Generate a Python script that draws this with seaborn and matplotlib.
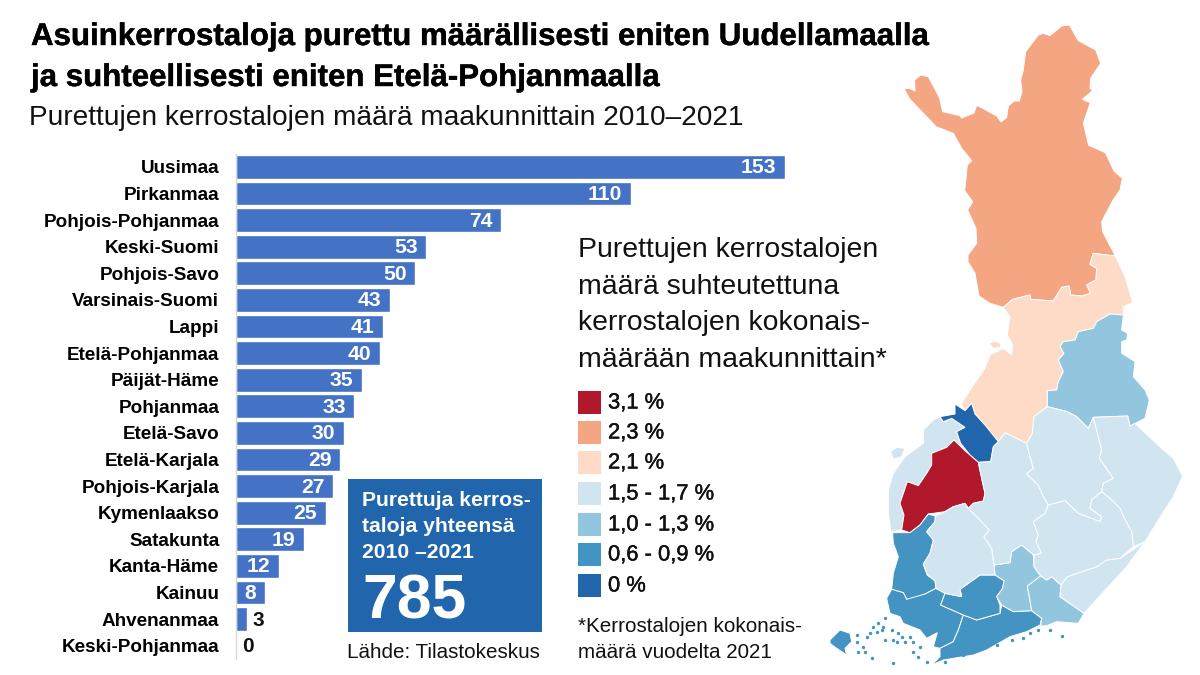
import matplotlib
matplotlib.use("Agg")
import matplotlib.pyplot as plt
import matplotlib.patheffects as pe
from matplotlib.patches import Polygon, Rectangle
import pandas as pd
import seaborn as sns

# Bar chart values
regions = ["Uusimaa", "Pirkanmaa", "Pohjois-Pohjanmaa", "Keski-Suomi", "Pohjois-Savo",
           "Varsinais-Suomi", "Lappi", "Etelä-Pohjanmaa", "Päijät-Häme", "Pohjanmaa",
           "Etelä-Savo", "Etelä-Karjala", "Pohjois-Karjala", "Kymenlaakso", "Satakunta",
           "Kanta-Häme", "Kainuu", "Ahvenanmaa", "Keski-Pohjanmaa"]
counts = [153, 110, 74, 53, 50, 43, 41, 40, 35, 33, 30, 29, 27, 25, 19, 12, 8, 3, 0]

# Map legend classes
legend_labels = ["3,1 %", "2,3 %", "2,1 %", "1,5 - 1,7 %", "1,0 - 1,3 %", "0,6 - 0,9 %", "0 %"]
legend_colors = ["#B2182B", "#F4A582", "#FDDBC7", "#D1E5F0", "#92C5DE", "#4393C3", "#2166AC"]
RED, ORANGE, PEACH, PALE, LIGHT, MID, DARK = legend_colors

# Hand traced region outlines, origin (830, 340), 3 units per pixel
lappi = [(222,-753),(238,-755),(255,-747),(254,-780),(272,-795),(295,-790),(328,-728),(338,-685),(390,-673),(395,-666),
         (432,-681),(440,-704),(458,-695),(500,-672),(513,-654),(530,-668),(535,-702),(553,-717),(568,-717),(576,-745),
         (572,-780),(580,-810),(587,-865),(625,-915),(640,-920),(660,-913),(695,-942),(718,-945),(745,-898),(797,-870),
         (812,-830),(782,-785),(780,-755),(788,-748),(757,-722),(781,-712),(760,-650),(776,-584),(826,-562),(852,-507),
         (877,-485),(870,-450),(848,-418),(815,-355),(818,-325),(856,-252),(790,-260),(780,-227),(800,-215),(798,-180),
         (770,-165),(782,-140),(755,-132),(722,-135),(717,-162),(695,-158),(670,-117),(602,-122),(600,-135),(548,-122),
         (520,-98),(480,-110),(447,-132),(435,-200),(414,-235),(414,-255),(440,-290),(438,-335),(413,-390),(428,-415),
         (404,-448),(412,-525),(425,-538),(395,-575),(370,-620),(318,-640),(290,-670),(240,-722)]
pohjois_pohjanmaa = [(520,-98),(548,-122),(600,-135),(602,-122),(670,-117),(695,-158),(717,-162),(722,-135),(755,-132),
                     (782,-140),(770,-165),(798,-180),(800,-215),(780,-227),(790,-260),(856,-252),(885,-190),(908,-112),
                     (880,-100),(880,-75),(840,-78),(800,-55),(790,-35),(745,-25),(735,0),(700,5),(690,20),(702,40),(685,60),
                     (700,95),(685,125),(680,150),(652,152),(652,200),(612,230),(607,280),(590,310),(525,278),(505,305),
                     (465,255),(435,222),(425,190),(405,212),(395,192),(420,150),(465,85),(480,45),(520,25),(545,45),
                     (548,15),(532,-15),(540,-70)]
pp_island = [(478,10),(495,3),(510,8),(512,22),(490,25)]
kainuu = [(735,0),(745,-25),(790,-35),(800,-55),(840,-78),(880,-75),(875,-30),(893,-20),(890,0),(875,5),(875,40),(915,65),
          (910,110),(945,150),(958,180),(945,235),(900,258),(893,228),(790,232),(775,265),(740,230),(712,215),(652,200),
          (652,152),(680,150),(685,125),(700,95),(685,60),(702,40),(690,20),(700,5)]
keski_pohjanmaa = [(330,230),(375,222),(375,192),(405,212),(425,190),(435,222),(465,255),(505,305),(490,320),(482,365),
                   (445,367),(420,345),(392,310),(380,275),(405,262),(365,235),(340,245)]
etela_pohjanmaa = [(305,340),(350,322),(372,300),(405,332),(445,367),(455,415),(465,460),(460,483),(430,490),(415,505),
                   (405,490),(370,500),(345,515),(295,522),(270,555),(240,578),(215,570),(222,525),(210,490),(232,425),
                   (265,437),(290,400),(305,375)]
pohjanmaa = [(330,230),(340,245),(365,235),(405,262),(380,275),(392,310),(420,345),(405,332),(372,300),(350,322),(305,340),
             (305,375),(290,400),(265,437),(232,425),(210,490),(222,525),(215,570),(183,575),(175,520),(175,450),(190,400),
             (225,350),(280,310),(280,270),(310,240)]
pohjanmaa_island = [(182,335),(200,322),(225,325),(215,350),(190,358)]
satakunta = [(188,578),(240,578),(270,555),(295,522),(316,528),(315,545),(290,575),(310,600),(300,640),(280,672),(292,705),
             (315,722),(318,745),(285,762),(250,775),(230,778),(220,758),(185,748),(190,700),(205,650),(190,610)]
varsinais_suomi = [(185,748),(220,758),(230,778),(285,762),(318,745),(345,760),(332,795),(400,825),(385,870),(370,905),
                   (330,925),(310,920),(322,878),(290,895),(270,870),(220,850),(210,830),(180,820),(170,775)]
uusimaa = [(400,825),(440,840),(510,820),(515,795),(550,815),(605,812),(635,835),(630,855),(590,875),(540,890),(470,930),
           (430,945),(400,950),(340,960),(305,975),(330,950),(330,925),(370,905),(385,870)]
kanta_hame = [(345,760),(395,770),(390,748),(450,705),(495,705),(522,722),(518,745),(500,770),(510,795),(510,820),(440,840),
              (400,825),(332,795)]
paijat_hame = [(492,675),(540,668),(545,635),(575,615),(610,645),(612,680),(632,708),(592,738),(598,770),(605,812),(550,815),
               (515,795),(500,770),(518,745),(522,722),(495,705)]
kymenlaakso = [(592,738),(632,708),(650,720),(665,710),(693,735),(690,770),(762,820),(745,850),(680,845),(650,857),(632,858),
               (635,835),(605,812),(598,770)]
etela_karjala = [(693,735),(712,710),(800,680),(830,660),(870,655),(945,605),(890,680),(835,740),(762,820),(690,770)]
pirkanmaa = [(280,672),(300,640),(310,600),(290,575),(315,545),(316,528),(345,515),(370,500),(405,490),(415,505),(450,540),
             (478,570),(462,590),(485,625),(492,675),(495,705),(450,705),(390,748),(395,770),(345,760),(318,745),(315,722),(292,705)]
keski_suomi = [(445,367),(482,365),(490,320),(505,305),(525,278),(590,310),(600,350),(610,385),(590,402),(625,435),(640,470),
               (655,495),(645,520),(610,545),(625,585),(618,605),(635,640),(612,645),(575,615),(545,635),(540,668),(492,675),
               (485,625),(462,590),(478,570),(450,540),(415,505),(430,490),(460,483),(465,460),(455,415)]
pohjois_savo = [(612,230),(652,200),(712,215),(740,230),(775,265),(790,232),(805,290),(815,330),(808,355),(850,415),(820,430),
                (815,455),(785,480),(780,505),(815,530),(810,545),(745,520),(705,482),(655,495),(640,470),(625,435),(590,402),
                (610,385),(600,350),(590,310),(607,280)]
pohjois_karjala = [(790,232),(893,228),(900,258),(915,250),(1000,330),(1030,355),(1058,408),(1030,470),(985,540),(945,605),
                   (910,620),(905,575),(880,530),(870,505),(845,480),(815,455),(820,430),(850,415),(808,355),(815,330),(805,290)]
etela_savo = [(655,495),(705,482),(745,520),(810,545),(815,530),(780,505),(785,480),(815,455),(845,480),(870,505),(880,530),
              (905,575),(910,620),(870,655),(830,660),(800,680),(712,710),(693,735),(665,710),(650,720),(632,708),(612,680),
              (612,645),(635,640),(618,605),(625,585),(610,545),(645,520)]
ahvenanmaa = [(0,900),(30,870),(60,880),(65,905),(45,925),(50,945),(20,925),(0,910)]
islets = [(80,885),(100,920),(110,890),(130,860),(145,850),(165,835),(185,870),(165,900),(200,905),(225,905),(250,905),(270,920),
          (125,955),(85,935),(265,950),(290,965),(345,965),(400,945),(190,970),(155,870),(600,880),(660,870),(695,888),
          (120,880),(140,875),(160,860),(205,880),(190,900),(215,890),(240,890),(80,905),(105,935),(250,935),(545,900),(580,895),
          (625,870),(500,915)]

map_shapes = [(lappi, ORANGE), (pohjois_pohjanmaa, PEACH), (pp_island, PEACH), (kainuu, LIGHT), (pohjanmaa, PALE),
              (pohjanmaa_island, PALE), (keski_pohjanmaa, DARK), (etela_pohjanmaa, RED), (satakunta, MID),
              (varsinais_suomi, MID), (uusimaa, MID), (kanta_hame, MID), (paijat_hame, LIGHT), (kymenlaakso, LIGHT),
              (etela_karjala, PALE), (pirkanmaa, PALE), (keski_suomi, PALE), (pohjois_savo, PALE),
              (pohjois_karjala, PALE), (etela_savo, PALE), (ahvenanmaa, MID)]

sns.set_theme(style="white")
plt.rcParams["font.family"] = ["Liberation Sans", "DejaVu Sans"]

fig = plt.figure(figsize=(12, 6.75), dpi=100)

# Overlay in pixel coordinates for the map, legend and text
ov = fig.add_axes([0, 0, 1, 1])
ov.set_xlim(0, 1200)
ov.set_ylim(675, 0)
ov.axis("off")

# Slightly heavier text, the original typeface is bolder than Liberation
heavy = [pe.withStroke(linewidth=0.3, foreground="black")]
medium = [pe.withStroke(linewidth=0.3, foreground="black")]

# Bars
ax = fig.add_axes([236 / 1200, 1 - 659 / 675, 564 / 1200, 505.4 / 675])
ax.patch.set_alpha(0)
df = pd.DataFrame({"maakunta": regions, "maara": counts})
sns.barplot(data=df, y="maakunta", x="maara", color="#4472C4", width=0.9, saturation=1, ax=ax)
ax.set_xlim(0, 157.2)
ax.set_ylim(18.5, -0.5)
ax.set_xlabel("")
ax.set_ylabel("")
ax.xaxis.set_visible(False)
ax.tick_params(axis="y", length=0, pad=12)
for lab in ax.get_yticklabels():
    lab.set_fontsize(13.6)
    lab.set_fontweight("bold")
    lab.set_color("black")
for side in ["top", "right", "bottom"]:
    ax.spines[side].set_visible(False)
ax.spines["left"].set_color("#d8d8d8")
ax.spines["left"].set_linewidth(1)

for i, v in enumerate(counts):
    if v >= 8:
        ax.text(v - 2.4, i + 0.04, str(v), ha="right", va="center", color="white", fontsize=15.2, fontweight="bold")
    else:
        ax.text(v + 1.6, i + 0.04, str(v), ha="left", va="center", color="#111111", fontsize=15, fontweight="bold")

# Titles
ov.text(31, 37, "Asuinkerrostaloja purettu määrällisesti eniten Uudellamaalla", fontsize=22.5, fontweight="bold", va="center", color="black", path_effects=heavy)
ov.text(31, 78, "ja suhteellisesti eniten Etelä-Pohjanmaalla", fontsize=22.5, fontweight="bold", va="center", color="black", path_effects=heavy)
ov.text(29, 118, "Purettujen kerrostalojen määrä maakunnittain 2010–2021", fontsize=20.2, va="center", color="#111111")

# Total box
ov.add_patch(Rectangle((348, 479), 194, 153, color=DARK, lw=0))
for y, line in zip([500, 526, 552], ["Purettuja kerros-", "taloja yhteensä", "2010 –2021"]):
    ov.text(362, y, line, color="white", fontsize=15.2, fontweight="bold", va="center")
ov.text(362, 602, "785", color="white", fontsize=45, fontweight="bold", va="center")
ov.text(347, 652, "Lähde: Tilastokeskus", fontsize=14.9, va="center", color="#111111")

# Map legend
for y, line in zip([250, 287, 323, 360], ["Purettujen kerrostalojen", "määrä suhteutettuna", "kerrostalojen kokonais-", "määrään maakunnittain*"]):
    ov.text(578, y, line, fontsize=20.4, va="center", color="#111111")
for y, lab, col in zip([391, 421, 451, 482, 513, 543, 574], legend_labels, legend_colors):
    ov.add_patch(Rectangle((578, y), 23, 23, color=col, lw=0))
    ov.text(608, y + 12, lab, fontsize=15.8, va="center", color="#111111", path_effects=medium)
ov.text(578, 626, "*Kerrostalojen kokonais-", fontsize=14.9, va="center", color="#111111")
ov.text(578, 652, "määrä vuodelta 2021", fontsize=14.9, va="center", color="#111111")

# Map
for outline, col in map_shapes:
    pts = [(830 + x / 3, 340 + y / 3) for x, y in outline]
    ov.add_patch(Polygon(pts, closed=True, facecolor=col, edgecolor="white", lw=0.7))
ov.scatter([830 + x / 3 for x, y in islets], [340 + y / 3 for x, y in islets], s=6, color=MID, lw=0)

fig.savefig("out.png", dpi=100)
